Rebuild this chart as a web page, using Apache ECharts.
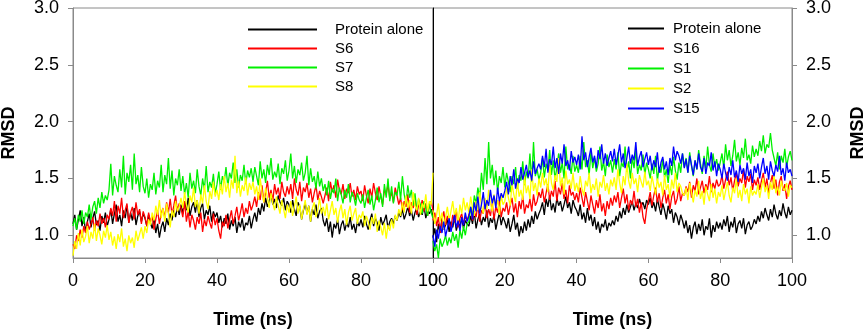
<!DOCTYPE html>
<html>
<head>
<meta charset="utf-8">
<title>RMSD</title>
<script src="https://cdn.jsdelivr.net/npm/echarts@6/dist/echarts.min.js"></script>
<style>
  html, body { margin: 0; padding: 0; background: #fff; }
  #chart { width: 865px; height: 330px; }
</style>
</head>
<body>
<div id="chart"></div>
<script>
// RMSD traces, one value every 0.5 ns from 0 to 100 ns
const leftProtein = [
  1.10,1.18,1.05,1.14,1.22,1.08,1.16,1.03,1.12,1.19,1.07,1.15,1.21,1.09,1.13,1.04,1.17,1.11,1.20,1.08,
  1.14,1.23,1.10,1.19,1.27,1.12,1.18,1.08,1.22,1.15,1.26,1.11,1.20,1.13,1.24,1.09,1.17,1.21,1.12,1.19,
  1.15,1.08,1.18,1.11,1.06,1.14,1.02,1.10,0.98,1.07,1.12,1.03,1.15,1.09,1.19,1.13,1.22,1.16,1.25,1.18,
  1.27,1.19,1.30,1.22,1.33,1.17,1.25,1.29,1.20,1.31,1.16,1.24,1.28,1.14,1.22,1.18,1.26,1.12,1.21,1.16,
  1.20,1.11,1.17,1.07,1.15,1.10,1.19,1.05,1.13,1.08,1.16,1.02,1.12,1.07,1.15,1.04,1.11,1.09,1.17,1.06,
  1.14,1.20,1.12,1.24,1.18,1.28,1.21,1.33,1.25,1.30,1.36,1.27,1.32,1.24,1.35,1.29,1.26,1.33,1.22,1.30,
  1.27,1.20,1.31,1.23,1.17,1.29,1.25,1.14,1.22,1.28,1.19,1.26,1.12,1.23,1.18,1.27,1.15,1.21,1.24,1.13,
  1.08,1.15,1.03,1.12,0.98,1.10,1.06,1.14,1.01,1.09,1.13,1.04,1.11,1.07,1.16,1.05,1.10,1.02,1.12,1.08,
  1.14,1.07,1.17,1.10,1.05,1.13,1.19,1.08,1.15,1.11,1.04,1.16,1.09,1.13,1.18,1.06,1.12,1.15,1.10,1.17,
  1.13,1.20,1.16,1.23,1.14,1.19,1.25,1.17,1.22,1.13,1.20,1.24,1.16,1.21,1.18,1.26,1.15,1.22,1.19,1.23,1.17
]
const s6 = [
  0.92,0.88,1.00,0.95,1.05,0.98,1.08,1.02,1.12,1.05,1.10,1.16,1.04,1.13,1.08,1.19,1.10,1.15,1.07,1.18,
  1.14,1.24,1.17,1.30,1.12,1.26,1.19,1.33,1.15,1.22,1.28,1.11,1.20,1.25,1.14,1.29,1.18,1.23,1.10,1.21,
  1.16,1.08,1.20,1.12,1.17,1.05,1.14,1.22,1.10,1.19,1.24,1.15,1.29,1.20,1.32,1.18,1.26,1.35,1.21,1.28,
  1.24,1.16,1.30,1.12,1.21,1.07,1.18,1.13,1.05,1.16,1.10,1.20,1.03,1.14,1.08,1.17,1.11,1.06,1.19,1.09,
  1.15,1.04,0.97,1.12,1.08,1.18,1.06,1.14,1.22,1.10,1.17,1.25,1.13,1.20,1.28,1.16,1.24,1.19,1.30,1.22,
  1.27,1.34,1.25,1.38,1.31,1.44,1.29,1.37,1.48,1.33,1.40,1.30,1.45,1.36,1.42,1.32,1.47,1.38,1.34,1.43,
  1.36,1.45,1.32,1.50,1.40,1.35,1.47,1.30,1.42,1.38,1.46,1.33,1.41,1.29,1.37,1.44,1.31,1.39,1.34,1.28,
  1.35,1.42,1.30,1.47,1.38,1.44,1.33,1.49,1.40,1.36,1.45,1.32,1.41,1.37,1.46,1.34,1.40,1.31,1.43,1.36,
  1.39,1.30,1.44,1.35,1.28,1.41,1.33,1.46,1.37,1.31,1.43,1.34,1.27,1.40,1.36,1.45,1.32,1.38,1.29,1.42,
  1.35,1.27,1.33,1.22,1.30,1.25,1.36,1.20,1.29,1.24,1.32,1.18,1.27,1.23,1.31,1.21,1.28,1.17,1.26,1.30,1.22
]
const s7 = [
  1.08,1.15,1.05,1.18,1.12,1.22,1.10,1.20,1.16,1.27,1.14,1.25,1.30,1.19,1.33,1.24,1.38,1.28,1.35,1.31,
  1.40,1.63,1.35,1.52,1.44,1.38,1.58,1.42,1.70,1.36,1.55,1.47,1.62,1.40,1.72,1.45,1.53,1.38,1.60,1.43,
  1.37,1.50,1.33,1.45,1.40,1.55,1.36,1.48,1.42,1.62,1.38,1.53,1.45,1.68,1.41,1.57,1.35,1.50,1.44,1.58,
  1.39,1.52,1.36,1.46,1.33,1.55,1.41,1.48,1.37,1.58,1.43,1.35,1.50,1.40,1.61,1.38,1.47,1.42,1.54,1.36,
  1.45,1.56,1.40,1.52,1.47,1.60,1.43,1.55,1.50,1.64,1.46,1.58,1.42,1.53,1.48,1.62,1.45,1.57,1.51,1.59,
  1.47,1.60,1.52,1.44,1.65,1.50,1.58,1.46,1.62,1.53,1.68,1.49,1.56,1.51,1.63,1.45,1.59,1.54,1.66,1.48,
  1.57,1.72,1.50,1.61,1.46,1.58,1.53,1.64,1.48,1.55,1.70,1.44,1.59,1.47,1.52,1.41,1.56,1.43,1.50,1.39,
  1.45,1.35,1.48,1.32,1.41,1.37,1.50,1.30,1.42,1.36,1.28,1.40,1.33,1.45,1.29,1.38,1.34,1.26,1.37,1.31,
  1.28,1.36,1.24,1.33,1.40,1.27,1.35,1.22,1.31,1.42,1.29,1.37,1.25,1.45,1.33,1.50,1.30,1.43,1.28,1.38,
  1.35,1.47,1.31,1.52,1.36,1.28,1.44,1.33,1.40,1.26,1.37,1.22,1.32,1.27,1.19,1.30,1.24,1.17,1.28,1.20,1.15
]
const s8 = [
  0.82,0.95,0.88,1.02,0.91,1.05,0.94,0.99,1.08,0.93,1.03,0.97,1.10,0.95,1.06,1.00,0.92,1.04,0.98,1.09,
  0.96,1.03,0.91,0.99,0.88,1.01,0.94,1.06,0.90,0.97,0.86,1.00,0.93,0.98,0.89,1.04,0.95,1.01,1.07,0.97,
  1.08,1.02,1.14,1.09,1.20,1.13,1.26,1.18,1.31,1.15,1.24,1.12,1.28,1.19,1.07,1.22,1.16,1.30,1.21,1.25,
  1.33,1.24,1.38,1.27,1.20,1.35,1.29,1.42,1.25,1.31,1.19,1.36,1.28,1.44,1.30,1.23,1.39,1.32,1.47,1.34,
  1.40,1.31,1.45,1.36,1.52,1.38,1.46,1.33,1.49,1.41,1.70,1.37,1.48,1.34,1.44,1.39,1.51,1.35,1.46,1.40,
  1.47,1.36,1.43,1.31,1.50,1.38,1.29,1.42,1.33,1.24,1.37,1.28,1.22,1.34,1.26,1.19,1.31,1.23,1.15,1.27,
  1.20,1.30,1.17,1.25,1.34,1.19,1.27,1.14,1.23,1.31,1.18,1.26,1.12,1.24,1.29,1.16,1.22,1.33,1.19,1.25,
  1.17,1.28,1.14,1.22,1.30,1.18,1.24,1.11,1.21,1.27,1.15,1.23,1.09,1.20,1.26,1.13,1.19,1.24,1.10,1.18,
  1.15,1.21,1.08,1.17,1.12,1.05,1.16,1.10,1.19,1.03,1.13,1.07,1.00,1.11,0.97,1.09,1.04,1.14,1.06,1.18,
  1.13,1.23,1.17,1.29,1.20,1.35,1.24,1.31,1.19,1.38,1.26,1.22,1.33,1.18,1.28,1.24,1.36,1.21,1.30,1.27,1.55
]
const rightProtein = [
  0.98,1.06,0.94,1.10,1.02,1.15,1.05,1.09,1.14,1.03,1.12,1.07,1.16,1.04,1.11,1.08,1.15,1.06,1.13,1.10,
  1.08,1.17,1.10,1.21,1.06,1.14,1.19,1.09,1.16,1.12,1.22,1.07,1.15,1.11,1.18,1.05,1.13,1.20,1.09,1.16,
  1.12,1.06,1.15,1.03,1.10,1.18,1.05,1.11,0.99,1.08,1.02,1.12,1.04,1.14,1.07,1.17,1.10,1.21,1.14,1.19,
  1.23,1.29,1.18,1.32,1.25,1.35,1.22,1.28,1.20,1.33,1.26,1.30,1.21,1.27,1.34,1.24,1.29,1.19,1.31,1.25,
  1.22,1.17,1.27,1.14,1.20,1.11,1.24,1.13,1.18,1.08,1.16,1.05,1.12,1.02,1.10,1.07,1.14,1.04,1.11,1.08,
  1.13,1.09,1.17,1.12,1.21,1.15,1.24,1.18,1.27,1.20,1.25,1.30,1.22,1.28,1.24,1.32,1.26,1.29,1.23,1.31,
  1.27,1.33,1.24,1.29,1.21,1.32,1.25,1.18,1.28,1.22,1.14,1.26,1.19,1.23,1.11,1.20,1.16,1.09,1.18,1.13,
  1.06,1.13,1.02,1.09,0.97,1.07,1.12,1.01,1.10,1.04,1.14,1.00,1.08,1.05,1.15,0.98,1.09,1.03,1.12,1.06,
  1.11,1.05,1.14,1.08,1.17,1.03,1.12,1.07,1.16,1.02,1.10,1.13,1.06,1.15,1.01,1.09,1.12,1.05,1.08,1.14,
  1.10,1.17,1.12,1.21,1.15,1.24,1.18,1.13,1.23,1.16,1.27,1.19,1.14,1.22,1.17,1.28,1.20,1.15,1.25,1.18,1.22
]
const s16 = [
  1.13,1.20,1.08,1.16,1.02,1.14,1.21,1.09,1.17,1.11,1.06,1.18,1.12,1.22,1.07,1.15,1.19,1.10,1.16,1.13,
  1.18,1.24,1.13,1.21,1.16,1.27,1.12,1.22,1.19,1.30,1.15,1.23,1.17,1.28,1.14,1.25,1.20,1.31,1.16,1.24,
  1.21,1.29,1.18,1.26,1.33,1.20,1.28,1.16,1.30,1.23,1.35,1.19,1.27,1.24,1.32,1.21,1.36,1.26,1.30,1.38,
  1.33,1.41,1.29,1.37,1.45,1.31,1.39,1.34,1.48,1.30,1.42,1.36,1.46,1.32,1.40,1.28,1.44,1.35,1.38,1.31,
  1.37,1.29,1.42,1.33,1.25,1.38,1.30,1.22,1.35,1.27,1.19,1.31,1.24,1.36,1.21,1.28,1.17,1.30,1.23,1.33,
  1.26,1.35,1.29,1.38,1.24,1.33,1.41,1.28,1.36,1.22,1.31,1.27,1.39,1.25,1.32,1.20,1.29,1.16,1.10,1.23,
  1.30,1.38,1.26,1.35,1.42,1.29,1.37,1.24,1.33,1.40,1.28,1.36,1.23,1.34,1.39,1.27,1.32,1.43,1.30,1.37,
  1.35,1.43,1.38,1.47,1.33,1.44,1.39,1.50,1.36,1.42,1.48,1.37,1.45,1.40,1.52,1.38,1.46,1.41,1.49,1.43,
  1.45,1.53,1.41,1.49,1.56,1.44,1.51,1.39,1.48,1.55,1.43,1.50,1.46,1.58,1.42,1.52,1.47,1.54,1.40,1.49,
  1.44,1.51,1.40,1.48,1.55,1.42,1.50,1.37,1.46,1.53,1.41,1.49,1.35,1.47,1.52,1.39,1.45,1.32,1.43,1.48,1.40
]
const s1 = [
  0.95,0.86,0.92,0.80,0.97,0.90,0.94,1.00,0.91,0.98,0.93,1.03,0.95,1.01,0.89,1.05,0.97,1.08,1.00,1.10,
  1.12,1.25,1.18,1.35,1.28,1.42,1.33,1.55,1.40,1.68,1.45,1.82,1.50,1.62,1.44,1.57,1.38,1.52,1.46,1.60,
  1.42,1.55,1.47,1.38,1.52,1.45,1.60,1.41,1.53,1.48,1.65,1.44,1.56,1.50,1.72,1.47,1.82,1.52,1.58,1.49,
  1.55,1.68,1.51,1.63,1.57,1.75,1.53,1.66,1.49,1.60,1.72,1.55,1.64,1.50,1.78,1.58,1.62,1.54,1.70,1.56,
  1.62,1.55,1.70,1.58,1.82,1.60,1.66,1.53,1.74,1.59,1.68,1.56,1.63,1.78,1.57,1.65,1.52,1.71,1.60,1.66,
  1.55,1.67,1.58,1.73,1.52,1.64,1.60,1.78,1.56,1.65,1.50,1.69,1.59,1.75,1.54,1.62,1.57,1.71,1.53,1.64,
  1.58,1.50,1.63,1.54,1.70,1.48,1.60,1.55,1.67,1.51,1.58,1.46,1.62,1.53,1.69,1.57,1.49,1.64,1.55,1.72,
  1.60,1.68,1.55,1.73,1.61,1.52,1.66,1.58,1.75,1.63,1.54,1.70,1.59,1.78,1.62,1.56,1.72,1.60,1.67,1.57,
  1.64,1.72,1.59,1.80,1.66,1.75,1.61,1.70,1.84,1.65,1.73,1.62,1.77,1.68,1.85,1.66,1.71,1.63,1.79,1.69,
  1.76,1.70,1.83,1.74,1.88,1.72,1.80,1.77,1.90,1.75,1.68,1.61,1.73,1.58,1.70,1.64,1.76,1.60,1.69,1.74,1.66
]
const s2 = [
  1.22,1.10,1.18,1.28,1.12,1.20,1.05,1.16,1.25,1.13,1.21,1.30,1.17,1.24,1.11,1.27,1.19,1.33,1.22,1.29,
  1.20,1.34,1.24,1.17,1.30,1.22,1.38,1.26,1.19,1.33,1.23,1.40,1.28,1.21,1.36,1.25,1.31,1.18,1.35,1.27,
  1.30,1.42,1.33,1.26,1.45,1.36,1.29,1.48,1.34,1.40,1.31,1.52,1.37,1.44,1.32,1.58,1.39,1.46,1.35,1.50,
  1.42,1.55,1.44,1.50,1.38,1.62,1.46,1.40,1.53,1.47,1.68,1.43,1.51,1.36,1.57,1.45,1.49,1.41,1.55,1.39,
  1.46,1.38,1.52,1.41,1.35,1.48,1.43,1.55,1.37,1.45,1.40,1.50,1.34,1.47,1.42,1.53,1.39,1.46,1.36,1.49,
  1.43,1.51,1.40,1.58,1.46,1.37,1.52,1.44,1.63,1.48,1.41,1.55,1.45,1.50,1.38,1.53,1.47,1.42,1.56,1.44,
  1.48,1.39,1.52,1.44,1.36,1.50,1.42,1.47,1.35,1.53,1.40,1.45,1.33,1.49,1.41,1.55,1.38,1.46,1.43,1.37,
  1.35,1.42,1.31,1.46,1.38,1.29,1.40,1.34,1.48,1.32,1.39,1.27,1.43,1.36,1.30,1.45,1.33,1.41,1.28,1.38,
  1.34,1.44,1.31,1.39,1.47,1.35,1.29,1.42,1.37,1.50,1.33,1.40,1.30,1.45,1.36,1.41,1.28,1.43,1.35,1.39,
  1.36,1.45,1.33,1.42,1.50,1.38,1.44,1.32,1.47,1.40,1.53,1.37,1.43,1.35,1.48,1.41,1.39,1.46,1.34,1.44,1.42
]
const s15 = [
  1.00,0.90,1.05,0.97,1.08,1.02,1.12,0.99,1.06,1.15,1.03,1.10,1.18,1.07,1.13,1.04,1.16,1.09,1.20,1.12,
  1.17,1.25,1.14,1.29,1.21,1.34,1.19,1.27,1.38,1.23,1.31,1.26,1.40,1.28,1.35,1.24,1.42,1.30,1.37,1.33,
  1.39,1.47,1.36,1.52,1.44,1.58,1.41,1.50,1.46,1.60,1.49,1.55,1.62,1.51,1.57,1.48,1.65,1.54,1.59,1.63,
  1.58,1.70,1.60,1.76,1.55,1.67,1.62,1.78,1.59,1.68,1.54,1.72,1.63,1.80,1.61,1.66,1.57,1.74,1.64,1.69,
  1.62,1.71,1.58,1.87,1.66,1.73,1.60,1.69,1.77,1.64,1.70,1.59,1.75,1.67,1.80,1.63,1.72,1.61,1.68,1.74,
  1.65,1.76,1.62,1.70,1.80,1.64,1.72,1.59,1.68,1.78,1.63,1.71,1.66,1.82,1.61,1.69,1.74,1.60,1.67,1.73,
  1.62,1.70,1.57,1.66,1.60,1.73,1.55,1.64,1.69,1.58,1.65,1.53,1.68,1.61,1.78,1.66,1.74,1.70,1.63,1.72,
  1.59,1.67,1.55,1.70,1.62,1.53,1.66,1.58,1.72,1.60,1.56,1.68,1.54,1.64,1.61,1.73,1.57,1.65,1.52,1.63,
  1.58,1.50,1.63,1.55,1.48,1.60,1.53,1.66,1.51,1.57,1.47,1.62,1.54,1.59,1.49,1.64,1.52,1.58,1.46,1.61,
  1.55,1.63,1.50,1.60,1.68,1.54,1.61,1.49,1.65,1.57,1.52,1.62,1.56,1.70,1.53,1.59,1.48,1.64,1.55,1.58,1.52
]

const xTicks = [0, 20, 40, 60, 80, 100]
const yTicks = [1.0, 1.5, 2.0, 2.5, 3.0]

const FONT = 'Liberation Sans, Arial, sans-serif'
const GRAY = '#8a8a8a'

// spread the samples evenly over 0..100 ns
const toPairs = vals => vals.map((v, i) => [i * 100 / (vals.length - 1), v])

function line(name, vals, color, idx) {
  return {
    name,
    type: 'line',
    xAxisIndex: idx,
    yAxisIndex: idx === 0 ? 0 : 2,
    data: toPairs(vals),
    showSymbol: false,
    symbol: 'none',
    lineStyle: { color, width: 1.3 },
    itemStyle: { color },
    animation: false
  }
}

function xAxis(gridIndex) {
  return {
    type: 'value',
    gridIndex,
    min: 0,
    max: 100,
    interval: 20,
    name: 'Time (ns)',
    nameLocation: 'middle',
    nameGap: 53,
    nameTextStyle: { fontFamily: FONT, fontSize: 18, fontWeight: 'bold', color: '#000' },
    axisLine: { lineStyle: { color: GRAY, width: 1 } },
    axisTick: { inside: false, length: 5, lineStyle: { color: GRAY }, customValues: xTicks },
    axisLabel: { fontFamily: FONT, fontSize: 18, color: '#000', margin: 14, customValues: xTicks },
    splitLine: { show: false }
  }
}

function yAxis(gridIndex, position, withLabels, lineColor, nameGap) {
  return {
    type: 'value',
    gridIndex,
    position,
    min: 0.8,
    max: 3.0,
    name: withLabels ? 'RMSD' : '',
    nameLocation: 'middle',
    nameRotate: 90,
    nameGap,
    nameTextStyle: { fontFamily: FONT, fontSize: 18, fontWeight: 'bold', color: '#000' },
    axisLine: { show: true, onZero: false, lineStyle: { color: lineColor, width: 1 } },
    axisTick: { show: withLabels, length: 5, lineStyle: { color: GRAY }, customValues: yTicks },
    axisLabel: {
      show: withLabels,
      fontFamily: FONT,
      fontSize: 18,
      color: '#000',
      margin: 14,
      customValues: yTicks,
      formatter: v => v.toFixed(1)
    },
    splitLine: { show: false }
  }
}

const chart = echarts.init(document.getElementById('chart'), null, { renderer: 'canvas' })
chart.setOption({
  backgroundColor: '#fff',
  animation: false,
  grid: [
    { left: 73, top: 8, width: 360, height: 250, outerBoundsMode: 'none', show: true, borderColor: GRAY, borderWidth: 1, backgroundColor: 'transparent' },
    { left: 433, top: 8, width: 359, height: 250, outerBoundsMode: 'none', show: true, borderColor: GRAY, borderWidth: 1, backgroundColor: 'transparent' }
  ],
  legend: [
    {
      data: ['Protein alone', 'S6', 'S7', 'S8'],
      orient: 'vertical',
      left: 243,
      top: 17,
      icon: 'rect',
      itemWidth: 69,
      itemHeight: 2,
      itemGap: 4,
      selectedMode: false,
      textStyle: { fontFamily: FONT, fontSize: 15, color: '#000', lineHeight: 15, padding: [0, 0, 0, 13] }
    },
    {
      data: ['Protein alone ', 'S16', 'S1', 'S2', 'S15'],
      orient: 'vertical',
      left: 623,
      top: 16,
      icon: 'rect',
      itemWidth: 36,
      itemHeight: 2,
      itemGap: 5,
      selectedMode: false,
      textStyle: { fontFamily: FONT, fontSize: 15, color: '#000', lineHeight: 15, padding: [0, 0, 0, 4] }
    }
  ],
  xAxis: [xAxis(0), xAxis(1)],
  yAxis: [
    yAxis(0, 'left', true, GRAY, 55),
    yAxis(0, 'right', false, '#000', 0),
    yAxis(1, 'right', true, GRAY, 57)
  ],
  series: [
    line('Protein alone', leftProtein, '#000000', 0),
    line('S6', s6, '#ff0000', 0),
    line('S7', s7, '#00f000', 0),
    line('S8', s8, '#ffff00', 0),
    line('Protein alone ', rightProtein, '#000000', 1),
    line('S16', s16, '#ff0000', 1),
    line('S1', s1, '#00f000', 1),
    line('S2', s2, '#ffff00', 1),
    line('S15', s15, '#0000ff', 1)
  ]
})
</script>
</body>
</html>
